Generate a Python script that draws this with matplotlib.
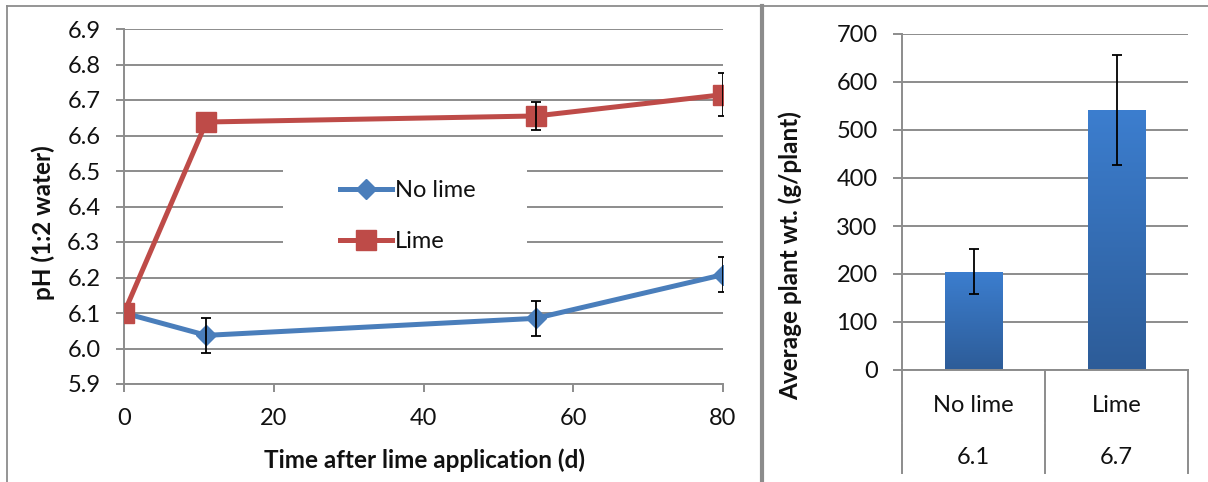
import matplotlib
matplotlib.use("Agg")
import matplotlib.pyplot as plt
import numpy as np
from matplotlib.lines import Line2D
from matplotlib.patches import Rectangle
from matplotlib.colors import LinearSegmentedColormap

# ---------------- data ----------------
days = [0, 11, 55, 80]
ph_nolime = [6.10, 6.037, 6.085, 6.208]
ph_nolime_err = [0.0, 0.05, 0.05, 0.05]
ph_lime = [6.10, 6.638, 6.655, 6.715]
ph_lime_err = [0.0, 0.0, 0.04, 0.06]

ph_yticks = [5.9, 6.0, 6.1, 6.2, 6.3, 6.4, 6.5, 6.6, 6.7, 6.8, 6.9]
day_ticks = [0, 20, 40, 60, 80]

treatments = ["No lime", "Lime"]
treatment_ph = ["6.1", "6.7"]
plant_wt = [205, 542]
plant_wt_err = [47, 115]
wt_ticks = [0, 100, 200, 300, 400, 500, 600, 700]

# ---------------- style ----------------
plt.rcParams['font.family'] = ['Lato', 'DejaVu Sans']
FS = 17
FSB = 17.5
GRID = '#8C8C8C'
BLUE = '#4A7EBB'
RED = '#BE4B48'
TXT = '#111111'

W, H = 1208, 482
fig = plt.figure(figsize=(W / 100, H / 100), dpi=100)

def rect(x0, y0, x1, y1):
    return [x0 / W, 1 - y1 / H, (x1 - x0) / W, (y1 - y0) / H]

# ---------------- borders ----------------
fig.add_artist(Line2D([7 / W, 1], [1 - 5.5 / H, 1 - 5.5 / H], color=GRID, lw=1.3))
fig.add_artist(Line2D([7 / W, 7 / W], [0, 1 - 5.5 / H], color=GRID, lw=1.3))
fig.add_artist(Line2D([762 / W, 762 / W], [0, 1 - 5.5 / H], color=GRID, lw=3.0))

# ---------------- left chart ----------------
ax = fig.add_axes(rect(124, 29, 723, 384))
ax.set_xlim(0, 80)
ax.set_ylim(5.9, 6.9)
ax.set_yticks(ph_yticks)
ax.set_yticklabels([f"{v:.1f}" for v in ph_yticks])
ax.set_xticks(day_ticks)
ax.yaxis.grid(True, color=GRID, lw=1.4, zorder=0)
ax.set_axisbelow(True)
for s in ['top', 'right']:
    ax.spines[s].set_visible(False)
for s in ['left', 'bottom']:
    ax.spines[s].set_color(GRID)
    ax.spines[s].set_linewidth(1.4)
ax.tick_params(axis='y', length=6, width=1.4, color=GRID, pad=11, labelsize=FS, labelcolor=TXT)
ax.tick_params(axis='x', length=6, width=1.4, color=GRID, pad=11, labelsize=FS, labelcolor=TXT)

# legend background (white box hiding grid)
lx0 = (283 - 124) / (723 - 124)
lx1 = (527 - 124) / (723 - 124)
ly0 = (384 - 262) / (384 - 29)
ly1 = (384 - 165) / (384 - 29)
ax.add_patch(Rectangle((lx0, ly0), lx1 - lx0, ly1 - ly0, transform=ax.transAxes,
                       facecolor='white', edgecolor='none', zorder=1))

l1, = ax.plot(days, ph_nolime, color=BLUE, lw=3.6, marker='D', ms=10.5,
              markerfacecolor=BLUE, markeredgecolor=BLUE, zorder=3, label='No lime')
l2, = ax.plot(days, ph_lime, color=RED, lw=3.6, marker='s', ms=14.5,
              markerfacecolor=RED, markeredgecolor=RED, zorder=4, label='Lime')
for y, e in [(ph_nolime, ph_nolime_err), (ph_lime, ph_lime_err)]:
    xs = [d for d, ee in zip(days, e) if ee > 0]
    ys = [v for v, ee in zip(y, e) if ee > 0]
    es = [ee for ee in e if ee > 0]
    ax.errorbar(xs, ys, yerr=es, fmt='none', ecolor='black', elinewidth=1.3,
                capsize=3.8, capthick=1.3, zorder=5)

leg = ax.legend(handles=[l1, l2], loc='upper left',
                bbox_to_anchor=((335 - 124) / 599 - 0.012, (384 - 168) / 355),
                frameon=False, fontsize=FS, handlelength=2.2, handletextpad=0.15,
                labelspacing=1.3, borderpad=0)
for t in leg.get_texts():
    t.set_color(TXT)

fig.text(43 / W, 1 - 223 / H, "pH (1:2 water)", rotation=90, ha='center', va='center',
         fontsize=FSB, fontweight='bold', color=TXT)
fig.text(424 / W, 1 - 460 / H, "Time after lime application (d)", ha='center', va='center',
         fontsize=FSB, fontweight='bold', color=TXT)

# ---------------- right chart ----------------
ax2 = fig.add_axes(rect(902, 34, 1188, 370))
xpos = np.arange(len(treatments)) + 0.5
bars = ax2.bar(xpos, plant_wt, width=0.4, color='none', edgecolor='none', zorder=2)
cmap = LinearSegmentedColormap.from_list('g', ['#2D5C98', '#3C7ECF'])
grad = np.linspace(0, 1, 256).reshape(-1, 1)
for b in bars:
    x0, w, h = b.get_x(), b.get_width(), b.get_height()
    im = ax2.imshow(grad, extent=[x0, x0 + w, 0, h], origin='lower', aspect='auto',
                    cmap=cmap, zorder=2)
    im.set_clip_path(b)
ax2.errorbar(xpos, plant_wt, yerr=plant_wt_err, fmt='none', ecolor='black', elinewidth=1.3,
             capsize=3.8, capthick=1.3, zorder=5)
ax2.set_xlim(0, len(treatments))
ax2.set_ylim(0, 700)
ax2.set_yticks(wt_ticks)
ax2.set_xticks([])
ax2.yaxis.grid(True, color=GRID, lw=1.4, zorder=0)
ax2.set_axisbelow(True)
for s in ['top', 'right']:
    ax2.spines[s].set_visible(False)
for s in ['left', 'bottom']:
    ax2.spines[s].set_color(GRID)
    ax2.spines[s].set_linewidth(1.4)
ax2.tick_params(axis='y', length=6.5, width=1.4, color=GRID, pad=11, labelsize=FS, labelcolor=TXT)

# multi-level category axis
hgt = 370 - 34
for xf in [0, 0.5, 1.0]:
    ax2.add_line(Line2D([xf, xf], [0, -52 / hgt], transform=ax2.transAxes, color=GRID,
                        lw=1.4, clip_on=False))
    ax2.add_line(Line2D([xf, xf], [-54 / hgt, -103 / hgt], transform=ax2.transAxes, color=GRID,
                        lw=1.4, clip_on=False))
for i, (name, ph) in enumerate(zip(treatments, treatment_ph)):
    xf = (i + 0.5) / len(treatments)
    ax2.text(xf, -(405 - 370) / hgt, name, transform=ax2.transAxes, ha='center', va='center',
             fontsize=FS, color=TXT)
    ax2.text(xf, -(457 - 370) / hgt, ph, transform=ax2.transAxes, ha='center', va='center',
             fontsize=FS, color=TXT)

fig.text(790 / W, 1 - 256 / H, "Average plant wt. (g/plant)", rotation=90, ha='center',
         va='center', fontsize=FSB, fontweight='bold', color=TXT)

fig.savefig("out.png", dpi=100, facecolor='white')
